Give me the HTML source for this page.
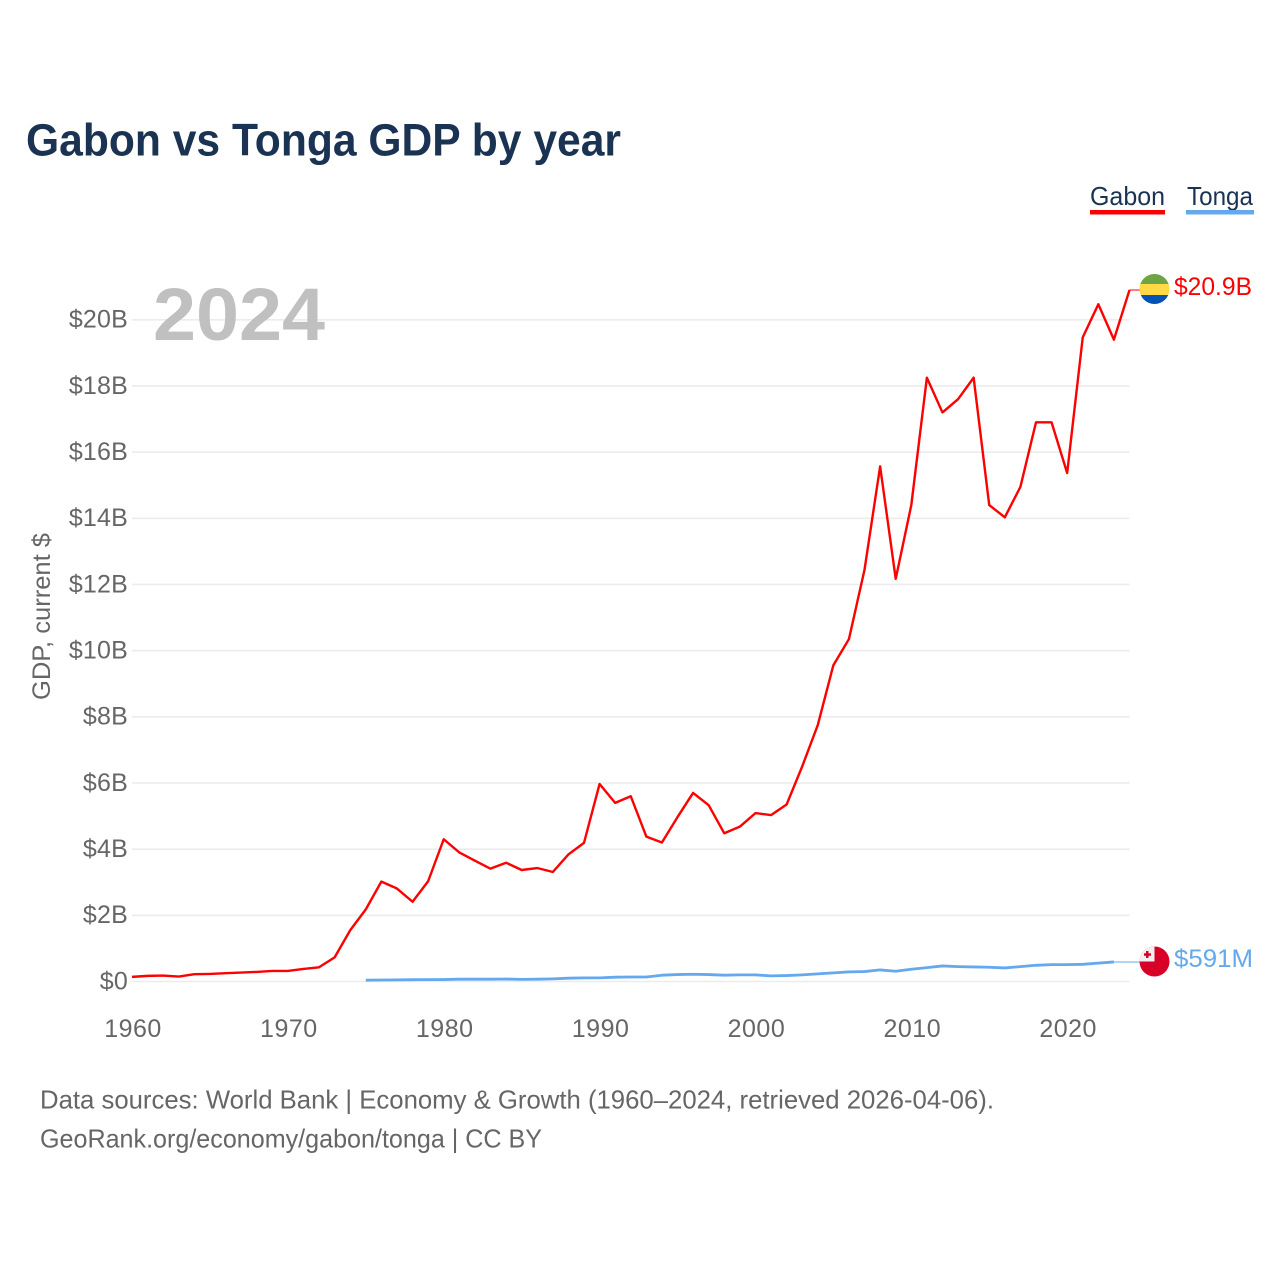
<!DOCTYPE html>
<html lang="en">
<head>
<meta charset="utf-8">
<title>Gabon vs Tonga GDP by year</title>
<style>
html,body{margin:0;padding:0;background:#fff;}
svg{display:block;font-family:"Liberation Sans",sans-serif;}
</style>
</head>
<body>
<svg id="chart" width="1280" height="1280" viewBox="0 0 1280 1280" xmlns="http://www.w3.org/2000/svg">
  <defs>
    <clipPath id="gabon-clip"><circle cx="1154.5" cy="289" r="15"/></clipPath>
    <clipPath id="tonga-clip"><circle cx="1154.5" cy="961.5" r="15"/></clipPath>
  </defs>
  <text x="26" y="155.5" font-size="45" font-weight="700" fill="#1a3353" textLength="595" lengthAdjust="spacingAndGlyphs">Gabon vs Tonga GDP by year</text>

  <g>
    <g>
      <text x="1090" y="205" font-size="26" fill="#1a3353" textLength="75" lengthAdjust="spacingAndGlyphs">Gabon</text>
      <rect x="1090" y="210" width="75" height="4.5" fill="#ff0000"/>
    </g>
    <g>
      <text x="1187" y="205" font-size="26" fill="#1a3353" textLength="66" lengthAdjust="spacingAndGlyphs">Tonga</text>
      <rect x="1186" y="210" width="68" height="4.5" fill="#64a8ee"/>
    </g>
  </g>

  <g id="grid"></g>
  <g id="y-ticks"></g>
  <g id="x-ticks"></g>

  <text transform="translate(50,700) rotate(-90)" font-size="25" fill="#666666" textLength="167" lengthAdjust="spacingAndGlyphs">GDP, current $</text>
  <text x="153" y="340" font-size="74" font-weight="700" fill="#c0c0c0" textLength="172" lengthAdjust="spacingAndGlyphs">2024</text>

  <g id="series"></g>

  <g clip-path="url(#gabon-clip)">
    <rect x="1139" y="274" width="31" height="10" fill="#6da544"/>
    <rect x="1139" y="284" width="31" height="11" fill="#ffda44"/>
    <rect x="1139" y="295" width="31" height="10" fill="#0052b4"/>
  </g>
  <g clip-path="url(#tonga-clip)">
    <rect x="1139" y="946" width="31" height="31" fill="#d80027"/>
    <rect x="1139" y="946" width="15.5" height="15.5" fill="#f0f0f0"/>
    <rect x="1146" y="951" width="2.5" height="7" fill="#d80027"/>
    <rect x="1144" y="953.3" width="7" height="2.5" fill="#d80027"/>
  </g>
  <text x="1174" y="295" font-size="25" fill="#ff0000" textLength="78" lengthAdjust="spacingAndGlyphs">$20.9B</text>
  <text x="1174" y="967" font-size="25" fill="#64a8ee" textLength="79" lengthAdjust="spacingAndGlyphs">$591M</text>

  <text x="40" y="1108.5" font-size="26" fill="#666666" textLength="954" lengthAdjust="spacingAndGlyphs">Data sources: World Bank | Economy &amp; Growth (1960–2024, retrieved 2026-04-06).</text>
  <text x="40" y="1147.5" font-size="26" fill="#666666" textLength="502" lengthAdjust="spacingAndGlyphs">GeoRank.org/economy/gabon/tonga | CC BY</text>
</svg>
<script>
const gabonStartYear = 1960;
const gabonValues = [0.14,0.17,0.18,0.15,0.22,0.23,0.25,0.27,0.29,0.32,0.32,0.38,0.43,0.73,1.55,2.18,3.02,2.81,2.41,3.03,4.30,3.90,3.65,3.41,3.59,3.37,3.43,3.31,3.84,4.19,5.97,5.40,5.60,4.38,4.20,4.97,5.70,5.33,4.48,4.68,5.09,5.03,5.35,6.50,7.75,9.56,10.35,12.45,15.57,12.17,14.40,18.25,17.20,17.60,18.25,14.40,14.03,14.95,16.90,16.90,15.37,19.47,20.47,19.40,20.90];
const tongaStartYear = 1975;
const tongaValues = [0.04,0.045,0.05,0.055,0.056,0.058,0.07,0.07,0.07,0.075,0.065,0.07,0.08,0.10,0.11,0.11,0.13,0.135,0.135,0.19,0.21,0.22,0.21,0.19,0.20,0.20,0.17,0.18,0.20,0.23,0.26,0.29,0.30,0.35,0.31,0.37,0.42,0.47,0.45,0.44,0.43,0.41,0.45,0.49,0.51,0.51,0.52,0.555,0.591];
const yTickValues = [0,2,4,6,8,10,12,14,16,18,20];
const yTickLabels = ['$0','$2B','$4B','$6B','$8B','$10B','$12B','$14B','$16B','$18B','$20B'];
const xTickYears = [1960,1970,1980,1990,2000,2010,2020];

const SVG_NS = 'http://www.w3.org/2000/svg';
function xScale(year) { return 132 + (year - 1960) * (1129.5 - 132) / 64; }
function yScale(value) { return 981.5 - value * (981.5 - 319.8) / 20; }
function make(tag, parent) {
  const el = document.createElementNS(SVG_NS, tag);
  parent.appendChild(el);
  return el;
}
function linePoints(startYear, values) {
  return values.map(function (v, i) {
    return xScale(startYear + i).toFixed(2) + ',' + yScale(v).toFixed(2);
  }).join(' ');
}

const gridGroup = document.getElementById('grid');
const yGroup = document.getElementById('y-ticks');
yTickValues.forEach(function (v, i) {
  const line = make('line', gridGroup);
  
  
  line.setAttribute('x1', xScale(1960));
  line.setAttribute('x2', xScale(2024));
  line.setAttribute('y1', yScale(v));
  line.setAttribute('y2', yScale(v));
  line.setAttribute('stroke', '#ececec');
  line.setAttribute('stroke-width', '1.6');
  const label = make('text', yGroup);
  
  
  label.setAttribute('x', 128);
  label.setAttribute('y', yScale(v) + 7.8);
  label.setAttribute('text-anchor', 'end');
  label.setAttribute('font-size', '25');
  label.setAttribute('letter-spacing', '0.2');
  label.setAttribute('fill', '#666666');
  label.textContent = yTickLabels[i];
});

const xGroup = document.getElementById('x-ticks');
xTickYears.forEach(function (year) {
  const label = make('text', xGroup);
  
  
  label.setAttribute('x', xScale(year) + 1);
  label.setAttribute('y', 1037);
  label.setAttribute('text-anchor', 'middle');
  label.setAttribute('font-size', '25');
  label.setAttribute('letter-spacing', '0.5');
  label.setAttribute('fill', '#666666');
  label.textContent = String(year);
});

const seriesGroup = document.getElementById('series');

const gabonEndYear = gabonStartYear + gabonValues.length - 1;
const gabonLast = gabonValues[gabonValues.length - 1];
const gabonConnector = make('line', seriesGroup);


gabonConnector.setAttribute('x1', xScale(gabonEndYear));
gabonConnector.setAttribute('x2', 1140);
gabonConnector.setAttribute('y1', yScale(gabonLast));
gabonConnector.setAttribute('y2', yScale(gabonLast));
gabonConnector.setAttribute('stroke', '#ff0000');
gabonConnector.setAttribute('stroke-width', '1');

const tongaEndYear = tongaStartYear + tongaValues.length - 1;
const tongaLast = tongaValues[tongaValues.length - 1];
const tongaConnector = make('line', seriesGroup);


tongaConnector.setAttribute('x1', xScale(tongaEndYear));
tongaConnector.setAttribute('x2', 1140);
tongaConnector.setAttribute('y1', yScale(tongaLast));
tongaConnector.setAttribute('y2', yScale(tongaLast));
tongaConnector.setAttribute('stroke', '#64a8ee');
tongaConnector.setAttribute('stroke-width', '1');

const tongaLine = make('polyline', seriesGroup);


tongaLine.setAttribute('points', linePoints(tongaStartYear, tongaValues));
tongaLine.setAttribute('fill', 'none');
tongaLine.setAttribute('stroke', '#64a8ee');
tongaLine.setAttribute('stroke-width', '2.8');
tongaLine.setAttribute('stroke-linejoin', 'round');

const gabonLine = make('polyline', seriesGroup);


gabonLine.setAttribute('points', linePoints(gabonStartYear, gabonValues));
gabonLine.setAttribute('fill', 'none');
gabonLine.setAttribute('stroke', '#ff0000');
gabonLine.setAttribute('stroke-width', '2.4');
gabonLine.setAttribute('stroke-linejoin', 'round');
</script>
</body>
</html>
